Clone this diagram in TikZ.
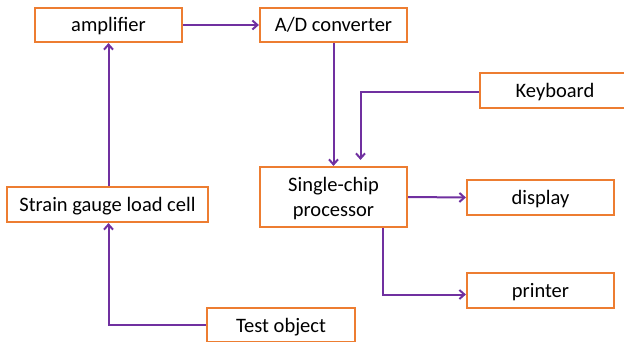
\documentclass[tikz,border=0pt]{standalone}
\usepackage{fontspec}
\setmainfont{Carlito}
\usetikzlibrary{arrows.meta}
\definecolor{boxorange}{RGB}{237,125,49}
\definecolor{linepurple}{RGB}{112,48,160}
\begin{document}
\begin{tikzpicture}[x=1pt,y=-1pt,
  blk/.style={draw=boxorange, line width=2.2pt, fill=white, inner sep=0pt, align=center, text height=18pt, text depth=4pt, font=\fontsize{20.5}{25}\selectfont},
  conn/.style={draw=linepurple, line width=2pt, -{Straight Barb[length=5pt,width=9pt,line width=2pt]}}
]
\useasboundingbox (0,0) rectangle (624,342);
\node[blk, minimum width=147pt, minimum height=34pt] (amp) at (108.5,25) {amplifier};
\node[blk, minimum width=147pt, minimum height=34pt] (adc) at (333.5,25) {A/D converter};
\node[blk, minimum width=150pt, minimum height=35pt] (kb) at (555,90.5) {Keyboard};
\node[blk, minimum width=147pt, minimum height=60pt, text height=43pt] (cpu) at (333.5,197) {Single-chip\\processor};
\node[blk, minimum width=147pt, minimum height=35pt] (disp) at (540.5,197.5) {display};
\node[blk, minimum width=147pt, minimum height=35pt] (prn) at (540.5,290.5) {printer};
\node[blk, minimum width=201pt, minimum height=35pt] (sg) at (107.5,204.5) {Strain gauge load cell};
\node[blk, minimum width=148pt, minimum height=34pt] (obj) at (281,325) {Test object};
\coordinate (kbturn) at (360.5,92.5);
\coordinate (prnturn) at (382.5,294.5);
\coordinate (objturn) at (108.5,325);
\draw[conn] (amp.east) -- (adc.west);
\draw[conn] (adc.south) -- (cpu.north);
\draw[conn] (kb.west |- kbturn) -- (kbturn) -- ([yshift=6pt]kbturn |- cpu.north);
\draw[conn] (cpu.east) -- (disp.west);
\draw[conn] (prnturn |- cpu.south) -- (prnturn) -- (prn.west |- prnturn);
\draw[conn] (sg.north -| amp.south) -- (amp.south);
\draw[conn] (obj.west) -- (objturn) -- (sg.south -| objturn);
\end{tikzpicture}
\end{document}
